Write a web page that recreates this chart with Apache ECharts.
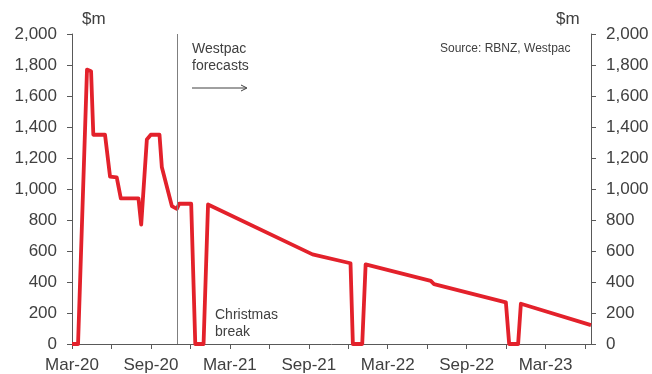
<!DOCTYPE html>
<html>
<head>
<meta charset="utf-8">
<script src="https://cdn.jsdelivr.net/npm/echarts@6/dist/echarts.min.js"></script>
<style>
  html, body { margin: 0; padding: 0; background: #fff; }
  #chart { width: 652px; height: 374px; }
</style>
</head>
<body>
<div id="chart"></div>
<script>
// x positions are months since Mar-2020
const monthOffsets = [0, 0.46, 1.14, 1.45, 1.62, 2.51, 2.89, 3.40, 3.71, 5.05, 5.26, 5.69, 5.99, 6.65, 6.83,
  7.59, 7.97, 8.15, 9.06, 9.37, 10.0, 10.34, 18.28, 21.17, 21.35, 22.06, 22.32, 27.27, 27.52, 32.98,
  33.23, 33.91, 34.12, 39.45]
const values = [0, 0, 1770, 1760, 1350, 1350, 1080, 1075, 940, 940, 770, 1320, 1350, 1350, 1140,
  890, 872, 905, 905, 0, 0, 900, 578, 521, 0, 0, 514, 407, 386, 268,
  0, 0, 260, 122]
const monthNames = ['Mar', 'Jun', 'Sep', 'Dec']
const forecastStart = 7.97
const xMax = 39.45

const TEXT = '#404040'
const AXIS = '#595959'
const FONT = 'Liberation Sans'

const chart = echarts.init(document.getElementById('chart'))

function xLabel(v) {
  if (v % 6 !== 0) return ''
  const yr = 20 + Math.floor(v / 12)
  return monthNames[(v % 12) / 3] + '-' + yr
}

const yAxisBase = {
  type: 'value',
  min: 0,
  max: 2000,
  interval: 200,
  axisLine: { show: true, lineStyle: { color: AXIS, width: 1 } },
  axisTick: { show: true, inside: false, length: 5, lineStyle: { color: AXIS } },
  splitLine: { show: false },
  axisLabel: {
    color: TEXT, fontSize: 17, fontFamily: FONT, margin: 15,
    formatter: v => v.toLocaleString('en-US')
  }
}

chart.setOption({
  animation: false,
  grid: { left: 72, right: 61, top: 34, bottom: 30 },
  xAxis: {
    type: 'value',
    min: 0,
    max: xMax,
    interval: 3,
    axisLine: { show: true, onZero: false, lineStyle: { color: AXIS, width: 1 } },
    axisTick: { show: true, length: 5, lineStyle: { color: AXIS } },
    splitLine: { show: false },
    axisLabel: {
      color: TEXT, fontSize: 17, fontFamily: FONT, margin: 13,
      showMaxLabel: false, formatter: xLabel
    }
  },
  yAxis: [
    Object.assign({}, yAxisBase, { position: 'left' }),
    Object.assign({}, yAxisBase, { position: 'right' })
  ],
  series: [{
    type: 'line',
    data: monthOffsets.map((m, i) => [m, values[i]]),
    showSymbol: false,
    lineStyle: { color: '#e3212b', width: 3.8, join: 'round' },
    itemStyle: { color: '#e3212b' },
    markLine: {
      silent: true,
      symbol: 'none',
      label: { show: false },
      lineStyle: { color: '#7f7f7f', type: 'solid', width: 1 },
      data: [{ xAxis: forecastStart }]
    },
    z: 3
  }],
  graphic: [
    { type: 'text', left: 82, top: 11, style: { text: '$m', fill: TEXT, font: '17px ' + FONT } },
    { type: 'text', left: 556, top: 11, style: { text: '$m', fill: TEXT, font: '17px ' + FONT } },
    { type: 'text', left: 440, top: 43, style: { text: 'Source: RBNZ, Westpac', fill: TEXT, font: '12px ' + FONT } },
    { type: 'text', left: 192, top: 41, style: { text: 'Westpac\nforecasts', fill: TEXT, font: '14px ' + FONT, lineHeight: 17 } },
    { type: 'line', shape: { x1: 192, y1: 88, x2: 246, y2: 88 }, style: { stroke: TEXT, lineWidth: 1 } },
    { type: 'polyline', shape: { points: [[241, 85], [247, 88], [241, 91]] }, style: { stroke: TEXT, lineWidth: 1, fill: null } },
    { type: 'text', left: 215, top: 307, style: { text: 'Christmas\nbreak', fill: TEXT, font: '14px ' + FONT, lineHeight: 17 } }
  ]
})
</script>
</body>
</html>
